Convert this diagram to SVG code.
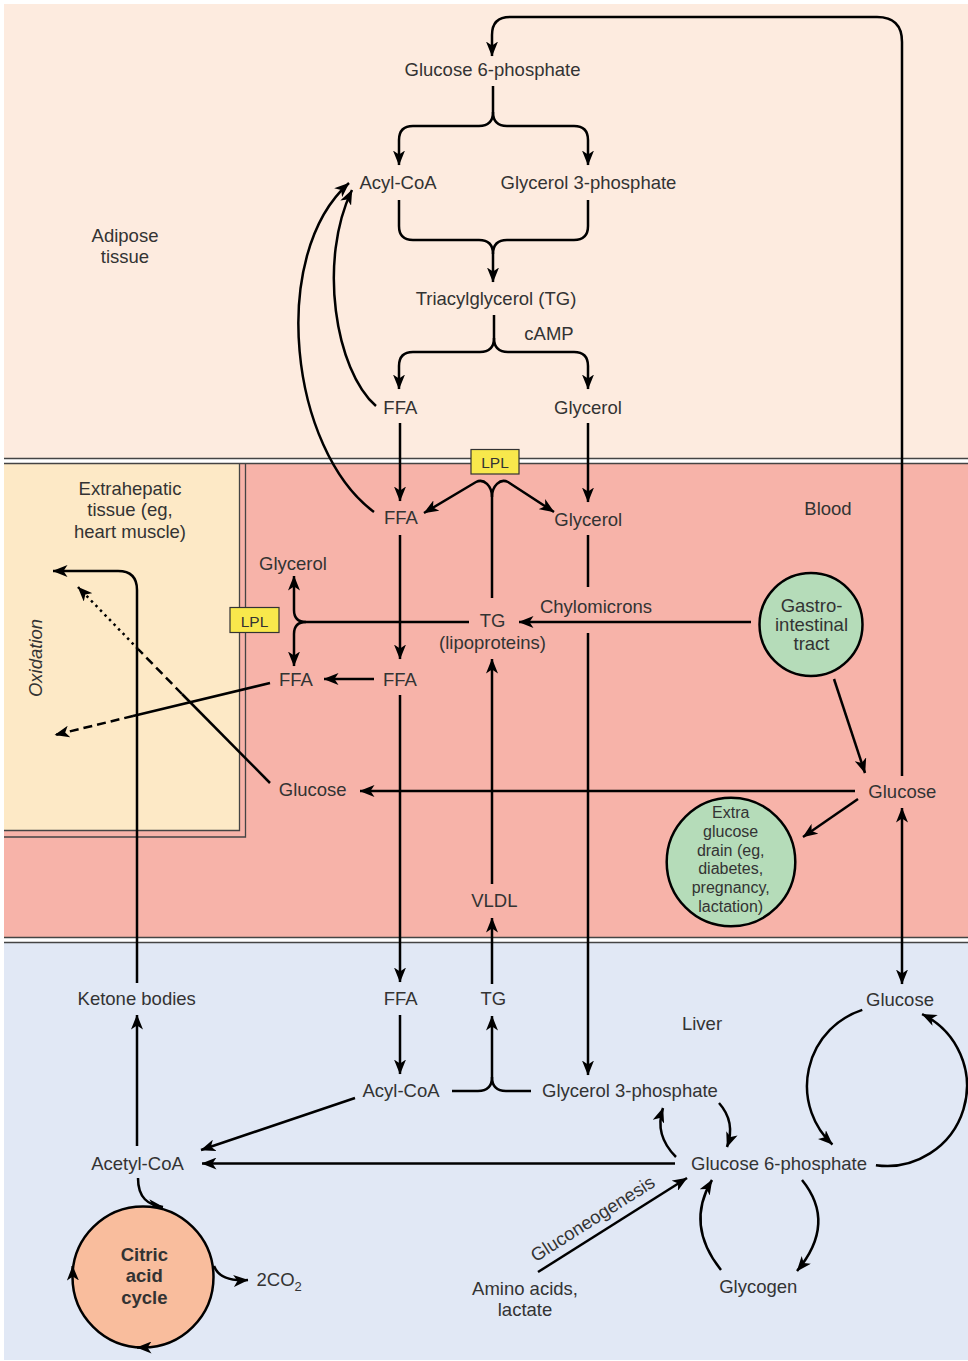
<svg xmlns="http://www.w3.org/2000/svg" width="968" height="1361" viewBox="0 0 968 1361">
<style>
.t{font-family:"Liberation Sans",Arial,sans-serif;font-size:18.5px;fill:#333;text-anchor:middle}
.s{font-size:16px}
.b{font-weight:bold}
.c{fill:none;stroke:#000;stroke-width:2.5}
.a{marker-end:url(#ah)}
.sep{fill:none;stroke:#444;stroke-width:1.3}
.lpl{fill:#f8e84c;stroke:#333;stroke-width:1.2}
.grn{fill:#b5dcb9;stroke:#000;stroke-width:2.5}
</style>
<defs>
<marker id="ah" viewBox="0 0 15 12" refX="14.5" refY="6" markerWidth="15" markerHeight="12" markerUnits="userSpaceOnUse" orient="auto-start-reverse">
<path d="M0,0 L15,6 L0,12 L4,6 Z" fill="#000"/>
</marker>
</defs>
<rect width="968" height="1361" fill="#fff"/>
<g id="regions">
<rect x="4" y="4" width="964" height="454" fill="#fdebdf"/>
<rect x="4" y="463.5" width="964" height="474" fill="#f7b3a9"/>
<rect x="4" y="943" width="964" height="417" fill="#e1e8f5"/>
<rect x="4" y="464" width="235.5" height="366.5" fill="#fde9c6"/>
<path class="sep" d="M4,458.5 H968 M4,463.5 H968 M4,937.5 H968 M4,942.5 H968"/>
<path class="sep" d="M4,830.5 H239.5 V464 M4,837 H245.5 V464"/>
</g>
<g id="connectors">
<path class="c a" d="M902,776 V42 Q902,17 877,17 H510 Q492,17 492,35 V56"/>
<path class="c a" d="M493,86 V112 Q493,126 479,126 H413 Q399,126 399,140 V165"/>
<path class="c a" d="M493,112 Q493,126 507,126 H574 Q588,126 588,140 V165"/>
<path class="c a" d="M399,200 V226 Q399,240 413,240 H479 Q493,240 493,254 V282"/>
<path class="c" d="M588,200 V226 Q588,240 574,240 H507 Q493,240 493,254"/>
<path class="c a" d="M494,315 V338 Q494,352 480,352 H413 Q399,352 399,366 V389"/>
<path class="c a" d="M494,338 Q494,352 508,352 H574 Q588,352 588,366 V389"/>
<path class="c a" d="M400,423 V501"/>
<path class="c a" d="M588,423 V502"/>
<path class="c a" d="M376,406 C335,370 318,260 352,190"/>
<path class="c a" d="M374,512 C290,450 268,255 349,183"/>
<path class="c a" d="M492,598 V497 C492,486 484,478 476,482 L424,513"/>
<path class="c a" d="M492,497 C492,486 500,478 508,482 L554,512"/>
<path class="c a" d="M469,622 H306 Q294,622 294,610 V576"/>
<path class="c a" d="M306,622 Q294,622 294,634 V666"/>
<path class="c" d="M588,535 V587"/>
<path class="c a" d="M588,633 V1075"/>
<path class="c a" d="M751,622 H519"/>
<path class="c a" d="M400,535 V659"/>
<path class="c a" d="M374,679 H324"/>
<path class="c a" d="M400,695 V982"/>
<path class="c" d="M270,683 L133,716"/>
<path class="c a" stroke-dasharray="9,5" d="M133,716 L55,735"/>
<path class="c" d="M270,783 L182,694"/>
<path class="c" stroke-dasharray="9,5" d="M182,694 L138,649"/>
<path class="c a" stroke-dasharray="2.5,4" d="M138,649 L78,587"/>
<path class="c a" d="M137,983 V590 Q137,571 118,571 H53"/>
<path class="c a" d="M137,1146 V1015"/>
<path class="c a" d="M855,791 H360"/>
<path class="c a" d="M834,679 L865,773"/>
<path class="c a" d="M858,799 L803,837"/>
<path class="c a" style="marker-start:url(#ah)" d="M902,808 V984"/>
<path class="c a" d="M492,984 V918"/>
<path class="c a" d="M492,884 V659"/>
<path class="c a" d="M400,1015 V1074"/>
<path class="c a" d="M452,1091 H478 Q492,1091 492,1077 V1016"/>
<path class="c" d="M531,1091 H506 Q492,1091 492,1077"/>
<path class="c a" d="M355,1098 L201,1150"/>
<path class="c a" d="M675,1163.5 H202"/>
<path class="c a" d="M676,1157 Q654,1135 663,1108"/>
<path class="c a" d="M719,1103 Q736,1122 727,1147"/>
<path class="c a" d="M538,1272 L687,1178"/>
<path class="c a" d="M721,1270 Q685,1225 712,1180"/>
<path class="c a" d="M802,1180 Q837,1223 797,1271"/>
<path class="c a" d="M862.3,1009.9 A80,80 0 0 0 832.4,1144.5"/>
<path class="c a" d="M875.9,1165.2 A80,80 0 0 0 922.1,1014.1"/>
<path class="c a" d="M138,1178 C138,1198 148,1205 163,1207"/>
<path class="c a" d="M214,1266 Q220,1282 248,1280"/>
</g>
<g id="adipose-label"><text class="t" x="125" y="241.5">Adipose</text><text class="t" x="125" y="262.5">tissue</text></g>
<g id="g6p-adipose"><text class="t" x="492.5" y="76">Glucose 6-phosphate</text></g>
<g id="acylcoa-adipose"><text class="t" x="398" y="189">Acyl-CoA</text></g>
<g id="g3p-adipose"><text class="t" x="588.5" y="189">Glycerol 3-phosphate</text></g>
<g id="tg-adipose"><text class="t" x="496" y="305">Triacylglycerol (TG)</text></g>
<g id="camp"><text class="t" x="549" y="340">cAMP</text></g>
<g id="ffa-adipose"><text class="t" x="400.3" y="414">FFA</text></g>
<g id="glycerol-adipose"><text class="t" x="588" y="414">Glycerol</text></g>
<g id="lpl-top"><rect class="lpl" x="471" y="449.5" width="48" height="24.5"/><text class="t" style="font-size:15.5px" x="495" y="468">LPL</text></g>
<g id="ffa-blood"><text class="t" x="401" y="524">FFA</text></g>
<g id="glycerol-blood"><text class="t" x="588.3" y="526">Glycerol</text></g>
<g id="blood-label"><text class="t" x="828" y="515">Blood</text></g>
<g id="extrahepatic-label"><text class="t" x="130" y="495">Extrahepatic</text><text class="t" x="130" y="516">tissue (eg,</text><text class="t" x="130" y="537.5">heart muscle)</text></g>
<g id="oxidation"><text class="t" style="font-style:italic" x="42" y="658" transform="rotate(-90 42 658)">Oxidation</text></g>
<g id="glycerol-extra"><text class="t" x="293" y="569.5">Glycerol</text></g>
<g id="lpl-left"><rect class="lpl" x="230" y="607.5" width="49" height="25"/><text class="t" style="font-size:15.5px" x="254.5" y="626.5">LPL</text></g>
<g id="chylomicrons"><text class="t" x="596" y="612.5">Chylomicrons</text></g>
<g id="tg-lipoproteins"><text class="t" x="492.5" y="627">TG</text><text class="t" x="492.5" y="649">(lipoproteins)</text></g>
<g id="gi-tract"><circle class="grn" cx="811" cy="624.5" r="51.5"/><text class="t" x="811.5" y="612.3">Gastro-</text><text class="t" x="811.5" y="631">intestinal</text><text class="t" x="811.5" y="649.5">tract</text></g>
<g id="ffa-extra"><text class="t" x="296" y="685.5">FFA</text></g>
<g id="ffa-blood2"><text class="t" x="400" y="685.5">FFA</text></g>
<g id="glucose-extra"><text class="t" x="312.7" y="796">Glucose</text></g>
<g id="glucose-blood"><text class="t" x="902.3" y="797.5">Glucose</text></g>
<g id="extra-drain"><circle class="grn" cx="731" cy="862" r="64.3"/>
<text class="t s" x="730.7" y="818.3">Extra</text><text class="t s" x="730.7" y="837">glucose</text><text class="t s" x="730.7" y="855.7">drain (eg,</text><text class="t s" x="730.7" y="874.4">diabetes,</text><text class="t s" x="730.7" y="893">pregnancy,</text><text class="t s" x="730.7" y="911.7">lactation)</text></g>
<g id="vldl"><text class="t" x="494.3" y="906.5">VLDL</text></g>
<g id="ketone-bodies"><text class="t" x="136.7" y="1005">Ketone bodies</text></g>
<g id="ffa-liver"><text class="t" x="400.7" y="1005">FFA</text></g>
<g id="tg-liver"><text class="t" x="493.3" y="1005">TG</text></g>
<g id="liver-label"><text class="t" x="702" y="1029.5">Liver</text></g>
<g id="glucose-liver"><text class="t" x="900" y="1006">Glucose</text></g>
<g id="acylcoa-liver"><text class="t" x="401" y="1097">Acyl-CoA</text></g>
<g id="g3p-liver"><text class="t" x="630" y="1097">Glycerol 3-phosphate</text></g>
<g id="acetylcoa"><text class="t" x="137.5" y="1169.5">Acetyl-CoA</text></g>
<g id="g6p-liver"><text class="t" x="779" y="1170">Glucose 6-phosphate</text></g>
<g id="gluconeogenesis"><text class="t" x="596" y="1224" transform="rotate(-32.5 596 1224)">Gluconeogenesis</text></g>
<g id="amino-acids"><text class="t" x="525" y="1295">Amino acids,</text><text class="t" x="525" y="1315.7">lactate</text></g>
<g id="glycogen"><text class="t" x="758.3" y="1293.3">Glycogen</text></g>
<g id="citric-acid-cycle"><circle cx="143" cy="1277" r="70.5" fill="#f9bd9d" stroke="#000" stroke-width="2.5"/>
<path class="c a" d="M72.8,1276 L72.6,1266"/>
<path class="c a" d="M147,1347.5 L137,1347.5"/>
<text class="t b" x="144.3" y="1260.5">Citric</text><text class="t b" x="144.3" y="1282">acid</text><text class="t b" x="144.3" y="1303.5">cycle</text></g>
<g id="co2"><text class="t" style="text-anchor:start" x="256.5" y="1285.7">2CO<tspan dy="5" style="font-size:13px">2</tspan></text></g>
</svg>
